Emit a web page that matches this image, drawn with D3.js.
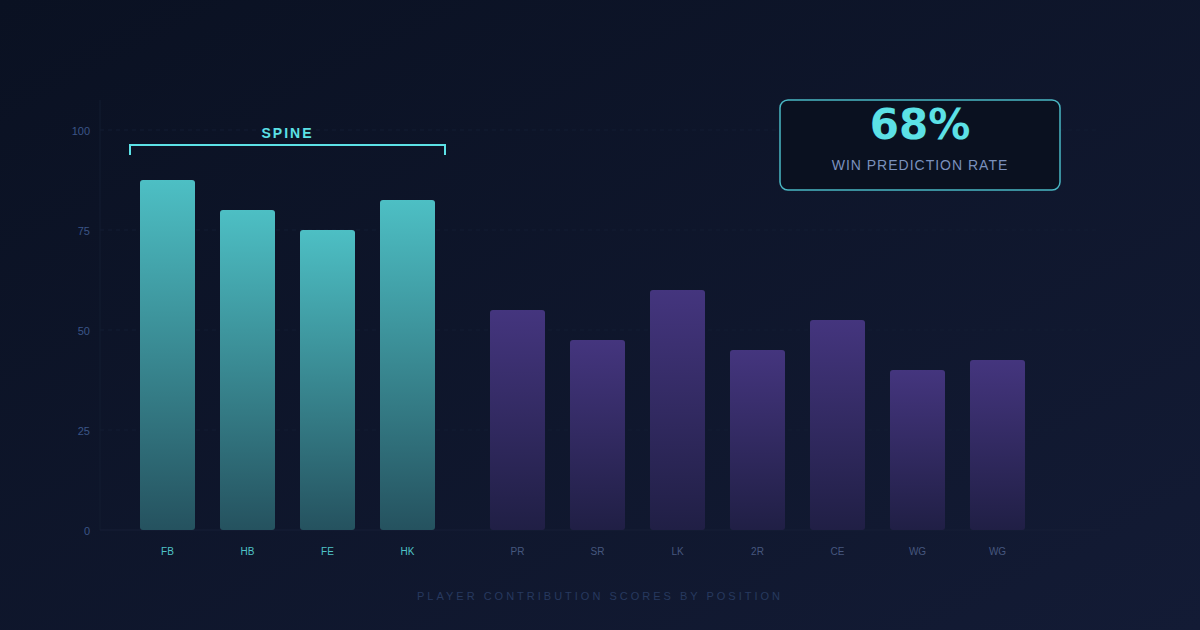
<!DOCTYPE html>
<html lang="en">
<head>
<meta charset="utf-8">
<script src="https://cdn.jsdelivr.net/npm/d3@7"></script>
<style>
  html, body { margin: 0; padding: 0; background: #0b1223; }
  svg { display: block; }
  .tick-label { font-family: "Liberation Sans", Arial, sans-serif; font-size: 11px; fill: #3b5587; }
  .pos-label { font-family: "Liberation Sans", Arial, sans-serif; font-size: 10px; }
</style>
</head>
<body>
<div id="chart"></div>
<script>
// data
var positions = ["FB", "HB", "FE", "HK", "PR", "SR", "LK", "2R", "CE", "WG", "WG"];
var scores    = [87.5, 80, 75, 82.5, 55, 47.5, 60, 45, 52.5, 40, 42.5];
var groups    = ["spine", "spine", "spine", "spine", "fwd", "fwd", "fwd", "fwd", "fwd", "fwd", "fwd"];
var yTicks    = [0, 25, 50, 75, 100];
var winRate   = "68%";

var width = 1200, height = 630;
var groupGap = 30;

var svg = d3.select("#chart").append("svg")
  .attr("width", width)
  .attr("height", height);

var defs = svg.append("defs");

var bg = defs.append("linearGradient").attr("id", "bg")
  .attr("x1", "0%").attr("y1", "0%").attr("x2", "100%").attr("y2", "100%");
bg.append("stop").attr("offset", "0%").attr("stop-color", "#0a1122");
bg.append("stop").attr("offset", "100%").attr("stop-color", "#131b35");

var gSpine = defs.append("linearGradient").attr("id", "gSpine")
  .attr("x1", 0).attr("y1", 0).attr("x2", 0).attr("y2", 1);
gSpine.append("stop").attr("offset", "0%").attr("stop-color", "#4dbfc4");
gSpine.append("stop").attr("offset", "100%").attr("stop-color", "#25525f");

var gFwd = defs.append("linearGradient").attr("id", "gFwd")
  .attr("x1", 0).attr("y1", 0).attr("x2", 0).attr("y2", 1);
gFwd.append("stop").attr("offset", "0%").attr("stop-color", "#44357e");
gFwd.append("stop").attr("offset", "100%").attr("stop-color", "#201f45");

svg.append("rect").attr("width", width).attr("height", height).attr("fill", "url(#bg)");

// scales
var y = d3.scaleLinear().domain([0, 100]).range([530, 130]);
var x = d3.scaleBand()
  .domain(d3.range(positions.length))
  .range([140, 995])
  .paddingInner(0.3125)
  .paddingOuter(0);

function xPos(i) { return x(i) + (groups[i] === "fwd" ? groupGap : 0); }

// grid
svg.append("g").selectAll("line")
  .data(yTicks.filter(function(d) { return d > 0; }))
  .enter().append("line")
  .attr("x1", 100).attr("x2", 1100)
  .attr("y1", function(d) { return y(d); })
  .attr("y2", function(d) { return y(d); })
  .attr("stroke", "#131d33")
  .attr("stroke-width", 1)
  .attr("stroke-dasharray", "4,4");

// axis lines
svg.append("line").attr("x1", 100).attr("x2", 100).attr("y1", 100).attr("y2", y(0))
  .attr("stroke", "#131c31").attr("stroke-width", 1);
svg.append("line").attr("x1", 100).attr("x2", 1100).attr("y1", y(0)).attr("y2", y(0))
  .attr("stroke", "#161f37").attr("stroke-width", 1);

svg.append("g").selectAll("text")
  .data(yTicks)
  .enter().append("text")
  .attr("class", "tick-label")
  .attr("x", 90)
  .attr("y", function(d) { return y(d) + 5; })
  .attr("text-anchor", "end")
  .text(function(d) { return d; });

// bars
svg.append("g").selectAll("rect")
  .data(scores)
  .enter().append("rect")
  .attr("x", function(d, i) { return xPos(i); })
  .attr("y", function(d) { return y(d); })
  .attr("width", x.bandwidth())
  .attr("height", function(d) { return y(0) - y(d); })
  .attr("rx", 3)
  .attr("fill", function(d, i) { return groups[i] === "spine" ? "url(#gSpine)" : "url(#gFwd)"; });

// position labels
svg.append("g").selectAll("text")
  .data(positions)
  .enter().append("text")
  .attr("class", "pos-label")
  .attr("x", function(d, i) { return xPos(i) + x.bandwidth() / 2; })
  .attr("y", 555)
  .attr("text-anchor", "middle")
  .attr("fill", function(d, i) { return groups[i] === "spine" ? "#4fc3c8" : "#46577e"; })
  .text(function(d) { return d; });

// spine bracket
var spineIdx = d3.range(positions.length).filter(function(i) { return groups[i] === "spine"; });
var bx0 = xPos(spineIdx[0]) - 10,
    bx1 = xPos(spineIdx[spineIdx.length - 1]) + x.bandwidth() + 10,
    by = 145;
svg.append("path")
  .attr("d", "M" + bx0 + "," + (by + 10) + "V" + by + "H" + bx1 + "V" + (by + 10))
  .attr("fill", "none")
  .attr("stroke", "#5ce1e6")
  .attr("stroke-width", 2);
svg.append("text")
  .attr("x", (bx0 + bx1) / 2)
  .attr("y", 138)
  .attr("text-anchor", "middle")
  .style("font-family", "'Liberation Sans', Arial, sans-serif")
  .style("font-size", "14px")
  .style("font-weight", "bold")
  .style("letter-spacing", "2px")
  .attr("fill", "#5ce1e6")
  .text("SPINE");

// win prediction box
svg.append("rect")
  .attr("x", 780).attr("y", 100).attr("width", 280).attr("height", 90)
  .attr("rx", 8)
  .attr("fill", "#0a1120")
  .attr("stroke", "#4ab8c4")
  .attr("stroke-width", 1.5);
svg.append("text")
  .attr("x", 920).attr("y", 139)
  .attr("text-anchor", "middle")
  .style("font-family", "'DejaVu Sans', sans-serif")
  .style("font-size", "42px")
  .style("font-weight", "bold")
  .attr("fill", "#5ce1e6")
  .text(winRate);
svg.append("text")
  .attr("x", 920).attr("y", 170)
  .attr("text-anchor", "middle")
  .style("font-family", "'Liberation Sans', Arial, sans-serif")
  .style("font-size", "14px")
  .style("letter-spacing", "1px")
  .attr("fill", "#7a90bd")
  .text("WIN PREDICTION RATE");

// caption
svg.append("text")
  .attr("x", 600).attr("y", 600)
  .attr("text-anchor", "middle")
  .style("font-family", "'Liberation Sans', Arial, sans-serif")
  .style("font-size", "11px")
  .style("letter-spacing", "3px")
  .attr("fill", "#27395f")
  .text("PLAYER CONTRIBUTION SCORES BY POSITION");
</script>
</body>
</html>
